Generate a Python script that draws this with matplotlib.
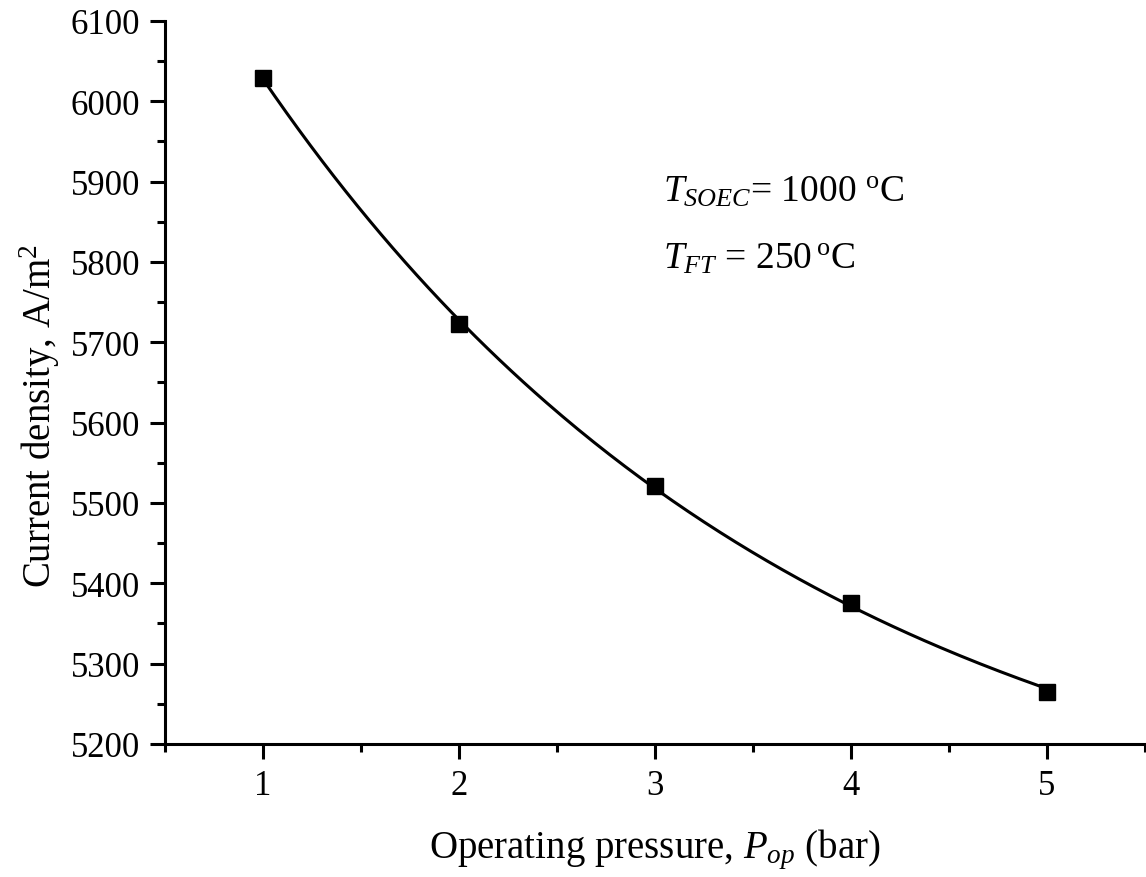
import numpy as np
import matplotlib
matplotlib.use("Agg")
import matplotlib.pyplot as plt
from matplotlib.ticker import MultipleLocator

plt.rcParams["font.family"] = "Liberation Serif"
plt.rcParams["mathtext.fontset"] = "custom"
plt.rcParams["mathtext.rm"] = "Liberation Serif"
plt.rcParams["mathtext.it"] = "Liberation Serif:italic"

pressure = [1, 2, 3, 4, 5]
current_density = [6029, 5723, 5521, 5376, 5265]

fig = plt.figure(figsize=(11.46, 8.78), dpi=100)
ax = fig.add_axes([0.144, 0.1515, 0.855, 0.8235])

# exponential decay fit y = y0 + A*exp(-x/t), t found by a simple scan
x = np.array(pressure, float)
y = np.array(current_density, float)
best = None
for t in np.linspace(0.5, 20, 400):
    M = np.column_stack([np.ones_like(x), np.exp(-x / t)])
    c, res, *_ = np.linalg.lstsq(M, y, rcond=None)
    err = np.sum((M @ c - y) ** 2)
    if best is None or err < best[0]:
        best = (err, t, c)
_, t, c = best
xs = np.linspace(1, 5, 200)
ax.plot(xs, c[0] + c[1] * np.exp(-xs / t), color="black", linewidth=2.2)
ax.plot(pressure, current_density, "s", color="black", markersize=11)

ax.set_xlim(0.5, 5.5)
ax.set_ylim(5200, 6100)
ax.xaxis.set_major_locator(MultipleLocator(1))
ax.xaxis.set_minor_locator(MultipleLocator(0.5))
ax.yaxis.set_major_locator(MultipleLocator(100))
ax.yaxis.set_minor_locator(MultipleLocator(50))

for s in ["top", "right"]:
    ax.spines[s].set_visible(False)
for s in ["left", "bottom"]:
    ax.spines[s].set_linewidth(2.2)
ax.tick_params(which="major", direction="out", length=11, width=2.2, labelsize=25, pad=7)
ax.tick_params(which="minor", direction="out", length=6, width=2.2)

ax.set_xlabel("Operating pressure, $P_{op}$ (bar)", fontsize=28, labelpad=18)
ax.set_ylabel("Current density, A/m$^2$", fontsize=28, labelpad=6)
ax.yaxis.label.set_y(0.455)

ax.text(3.04, 5876, "$T_{SOEC}$= 1000 $^{\\rm o}$C", fontsize=27)
ax.text(3.04, 5793, "$T_{FT}$ = 250$\\,^{\\rm o}$C", fontsize=27)

fig.savefig("out.png", dpi=100)
